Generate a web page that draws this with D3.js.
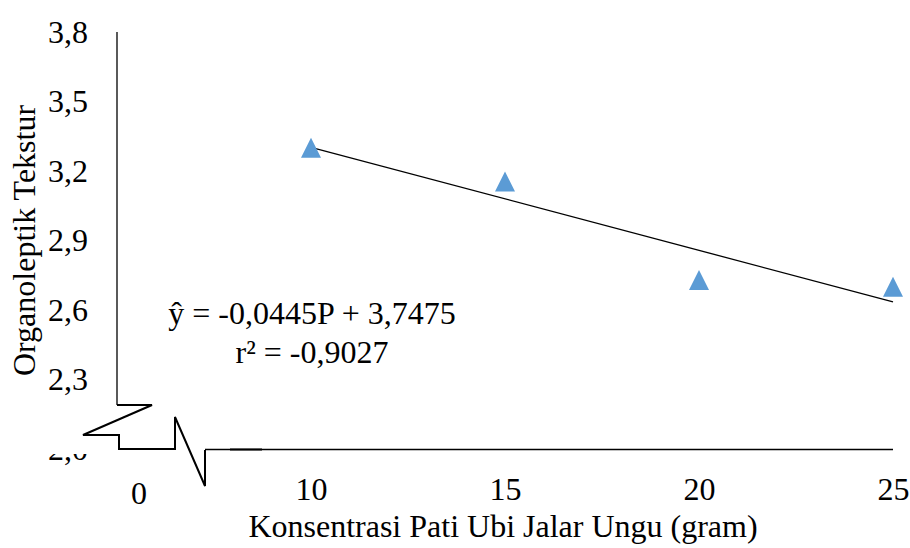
<!DOCTYPE html>
<html>
<head>
<meta charset="utf-8">
<script src="https://cdn.jsdelivr.net/npm/d3@7"></script>
<style>
  html, body { margin: 0; padding: 0; background: #fff; }
  svg { display: block; }
  text { font-family: "Liberation Serif", "Times New Roman", serif; fill: #000; }
</style>
</head>
<body>
<svg id="chart" width="910" height="548"></svg>
<script>
// Concentration of purple sweet potato starch (gram) and texture score
const concentration = [10, 15, 20, 25];
const tekstur = [3.30, 3.155, 2.73, 2.70];

// Axis ticks
const yTicks = [2.0, 2.3, 2.6, 2.9, 3.2, 3.5, 3.8];
const xTicks = [10, 15, 20, 25];
const xBreakLabel = "0";

// Linear regression reported for the series
const slope = -0.0445;
const intercept = 3.7475;
const r2Label = "-0,9027";

const svg = d3.select("#chart");
const FONT = 32;

const x = d3.scaleLinear().domain([5, 25]).range([117, 893]);
const y = d3.scaleLinear().domain([2.0, 3.8]).range([449, 32]);

const fmt = v => d3.format(".1f")(v).replace(".", ",");
const ox = x(5), oy = y(2.0);

// Y tick labels
const yAxis = svg.append("g")
  .attr("transform", `translate(${ox},0)`)
  .call(d3.axisLeft(y).tickValues(yTicks).tickSize(0).tickPadding(29).tickFormat(fmt));
yAxis.select(".domain").remove();
yAxis.selectAll("text")
  .attr("font-size", FONT)
  .attr("font-family", "Liberation Serif")
  .attr("fill", "#000");

// White patch hiding the baseline label behind the axis break
svg.append("rect")
  .attr("x", ox - 80).attr("y", oy - 14)
  .attr("width", 76).attr("height", 19)
  .attr("fill", "#fff");

// X tick labels
const xAxis = svg.append("g")
  .attr("transform", `translate(0,${oy})`)
  .call(d3.axisBottom(x).tickValues(xTicks).tickSize(0).tickPadding(28).tickFormat(d => d));
xAxis.select(".domain").remove();
xAxis.selectAll("text")
  .attr("font-size", FONT)
  .attr("font-family", "Liberation Serif")
  .attr("fill", "#000");

// "0" label on the broken part of the axis
svg.append("text")
  .attr("x", ox + 22).attr("y", oy + 55)
  .attr("text-anchor", "middle")
  .attr("font-size", FONT)
  .text(xBreakLabel);

// Y axis line down to the break
svg.append("line")
  .attr("x1", ox).attr("x2", ox)
  .attr("y1", y(3.8)).attr("y2", oy - 44)
  .attr("stroke", "#000").attr("stroke-width", 1.3);

// Axis break zig-zags joining both axes
const brk = d3.path();
brk.moveTo(ox, oy - 44);
brk.lineTo(ox + 35, oy - 44);
brk.lineTo(ox - 34, oy - 14);
brk.lineTo(ox + 2, oy - 14);
brk.lineTo(ox + 2, oy);
brk.lineTo(ox + 58, oy);
brk.lineTo(ox + 58, oy - 32);
brk.lineTo(ox + 88, oy + 37);
brk.lineTo(ox + 88, oy + 1);
svg.append("path")
  .attr("d", brk.toString())
  .attr("fill", "none")
  .attr("stroke", "#000")
  .attr("stroke-width", 2)
  .attr("stroke-linejoin", "miter");

// X axis line after the break
svg.append("line")
  .attr("x1", ox + 88).attr("x2", x(25))
  .attr("y1", oy + 0.5).attr("y2", oy + 0.5)
  .attr("stroke", "#000").attr("stroke-width", 1.3);
svg.append("line")
  .attr("x1", ox + 113).attr("x2", ox + 145)
  .attr("y1", oy + 0.5).attr("y2", oy + 0.5)
  .attr("stroke", "#000").attr("stroke-width", 2);

// Regression line
const xr = [concentration[0], concentration[concentration.length - 1]];
svg.append("line")
  .attr("x1", x(xr[0])).attr("y1", y(slope * xr[0] + intercept))
  .attr("x2", x(xr[1])).attr("y2", y(slope * xr[1] + intercept))
  .attr("stroke", "#000").attr("stroke-width", 1.3);

// Triangle markers
const tri = (cx, cy, s) => {
  const p = d3.path();
  p.moveTo(cx, cy - s / 2);
  p.lineTo(cx + s / 2, cy + s / 2);
  p.lineTo(cx - s / 2, cy + s / 2);
  p.closePath();
  return p.toString();
};
svg.append("g").selectAll("path")
  .data(concentration.map((c, i) => ({ c, v: tekstur[i] })))
  .join("path")
  .attr("d", d => tri(x(d.c), y(d.v), 20))
  .attr("fill", "#5B9BD5");

// Regression equation
function fmt4(v) { return d3.format(".4f")(v).replace(".", ",").replace("−", "-"); }
const eq = svg.append("text")
  .attr("x", 312).attr("font-size", FONT).attr("text-anchor", "middle");
eq.append("tspan").attr("x", 312).attr("y", 324)
  .text(`ŷ = ${fmt4(slope)}P + ${fmt4(intercept)}`);
eq.append("tspan").attr("x", 312).attr("y", 363)
  .text(`r² = ${r2Label}`);

// Axis titles
svg.append("text")
  .attr("x", (252 + 754) / 2).attr("y", 537)
  .attr("text-anchor", "middle")
  .attr("font-size", FONT)
  .text("Konsentrasi Pati Ubi Jalar Ungu (gram)");

svg.append("text")
  .attr("transform", `translate(35,${(32 + 449) / 2}) rotate(-90)`)
  .attr("text-anchor", "middle")
  .attr("font-size", FONT)
  .text("Organoleptik Tekstur");
</script>
</body>
</html>
